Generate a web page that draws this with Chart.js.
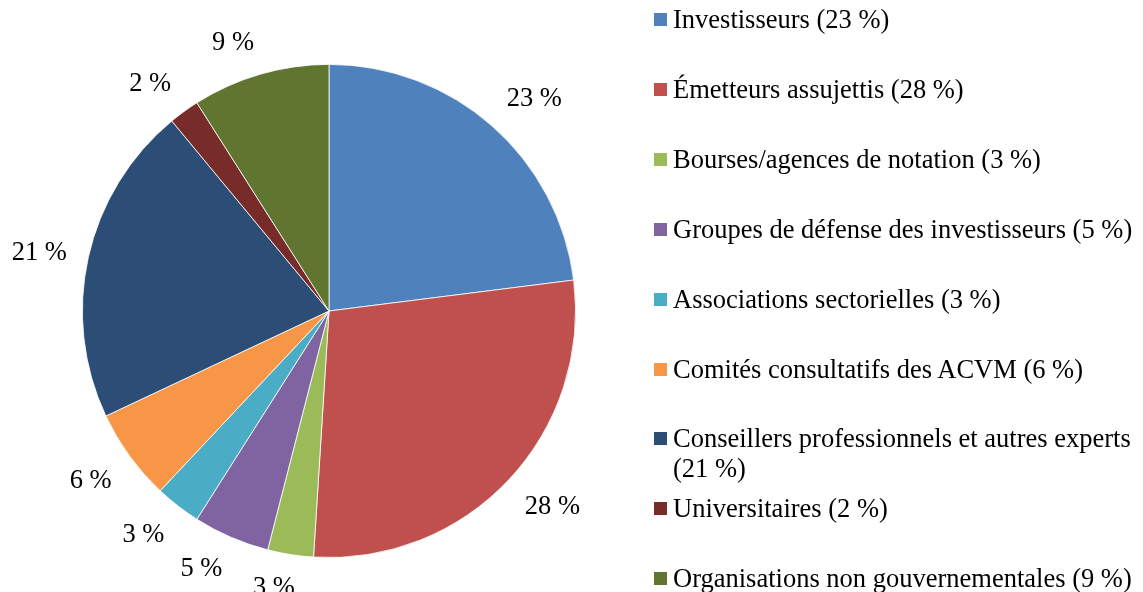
<!DOCTYPE html>
<html>
<head>
<meta charset="utf-8">
<script src="https://cdn.jsdelivr.net/npm/chart.js@4/dist/chart.umd.min.js"></script>
<style>
  html, body { margin: 0; padding: 0; background: #fff; }
  #wrap { position: relative; width: 1143px; height: 592px; overflow: hidden; }
  #c { position: absolute; left: 0; top: 0; }
  #legend { position: absolute; left: 654px; top: 0; width: 489px; font-family: "Liberation Serif", "Times New Roman", serif; font-size: 26.5px; color: #000; }
  .item { position: absolute; left: 0; width: 489px; line-height: 30px; }
  .sw { position: absolute; left: 0; top: 9px; width: 13px; height: 13px; }
  .tx { position: absolute; left: 19px; width: 470px; white-space: normal; }
</style>
</head>
<body>
<div id="wrap">
  <canvas id="c" width="1143" height="592"></canvas>
  <div id="legend"></div>
</div>
<script>
const categories = [
  "Investisseurs",
  "Émetteurs assujettis",
  "Bourses/agences de notation",
  "Groupes de défense des investisseurs",
  "Associations sectorielles",
  "Comités consultatifs des ACVM",
  "Conseillers professionnels et autres experts",
  "Universitaires",
  "Organisations non gouvernementales"
];
const values = [23, 28, 3, 5, 3, 6, 21, 2, 9];
const colors = ["#4F81BD", "#C0504D", "#9BBB59", "#8064A2", "#4BACC6", "#F79646", "#2C4D75", "#772C2A", "#5F7530"];

const FONT = '"Liberation Serif", "Times New Roman", serif';

const outsideLabels = {
  id: 'outsideLabels',
  afterDatasetsDraw(chart) {
    const ctx = chart.ctx;
    const meta = chart.getDatasetMeta(0);
    ctx.save();
    ctx.font = '26.5px ' + FONT;
    ctx.fillStyle = '#000';
    ctx.textAlign = 'center';
    ctx.textBaseline = 'middle';
    meta.data.forEach((arc, i) => {
      const p = arc.getProps(['x', 'y', 'startAngle', 'endAngle', 'outerRadius'], true);
      const mid = (p.startAngle + p.endAngle) / 2;
      const txt = values[i] + ' %';
      const w = ctx.measureText(txt).width;
      const h = 22;
      const ux = Math.cos(mid), uy = Math.sin(mid);
      const d = p.outerRadius + 22;
      const ax = p.x + ux * d, ay = p.y + uy * d;
      const fx = Math.max(-1, Math.min(1, ux * 4));
      const fy = Math.sign(uy) * Math.max(0, Math.min(1, (Math.abs(uy) - 0.2) / 0.3));
      ctx.fillText(txt, ax + fx * w / 2, ay + fy * h / 2 + 1);
    });
    ctx.restore();
  }
};

const chart = new Chart(document.getElementById('c'), {
  type: 'pie',
  data: {
    labels: categories,
    datasets: [{
      data: values,
      backgroundColor: colors,
      borderColor: '#ffffff',
      borderWidth: 0.8
    }]
  },
  options: {
    responsive: false,
    animation: false,
    layout: { padding: { left: 82, right: 567, top: 64, bottom: 34 } },
    plugins: {
      legend: { display: false },
      tooltip: { enabled: false }
    }
  },
  plugins: [outsideLabels]
});

// HTML legend built from the same arrays
const legend = document.getElementById('legend');
categories.forEach((name, i) => {
  const item = document.createElement('div');
  item.className = 'item';
  item.style.top = (4 + i * 69.9) + 'px';
  const sw = document.createElement('div');
  sw.className = 'sw';
  sw.style.background = colors[i];
  const tx = document.createElement('div');
  tx.className = 'tx';
  tx.textContent = name + ' (' + values[i] + ' %)';
  item.appendChild(sw);
  item.appendChild(tx);
  legend.appendChild(item);
});
</script>
</body>
</html>
